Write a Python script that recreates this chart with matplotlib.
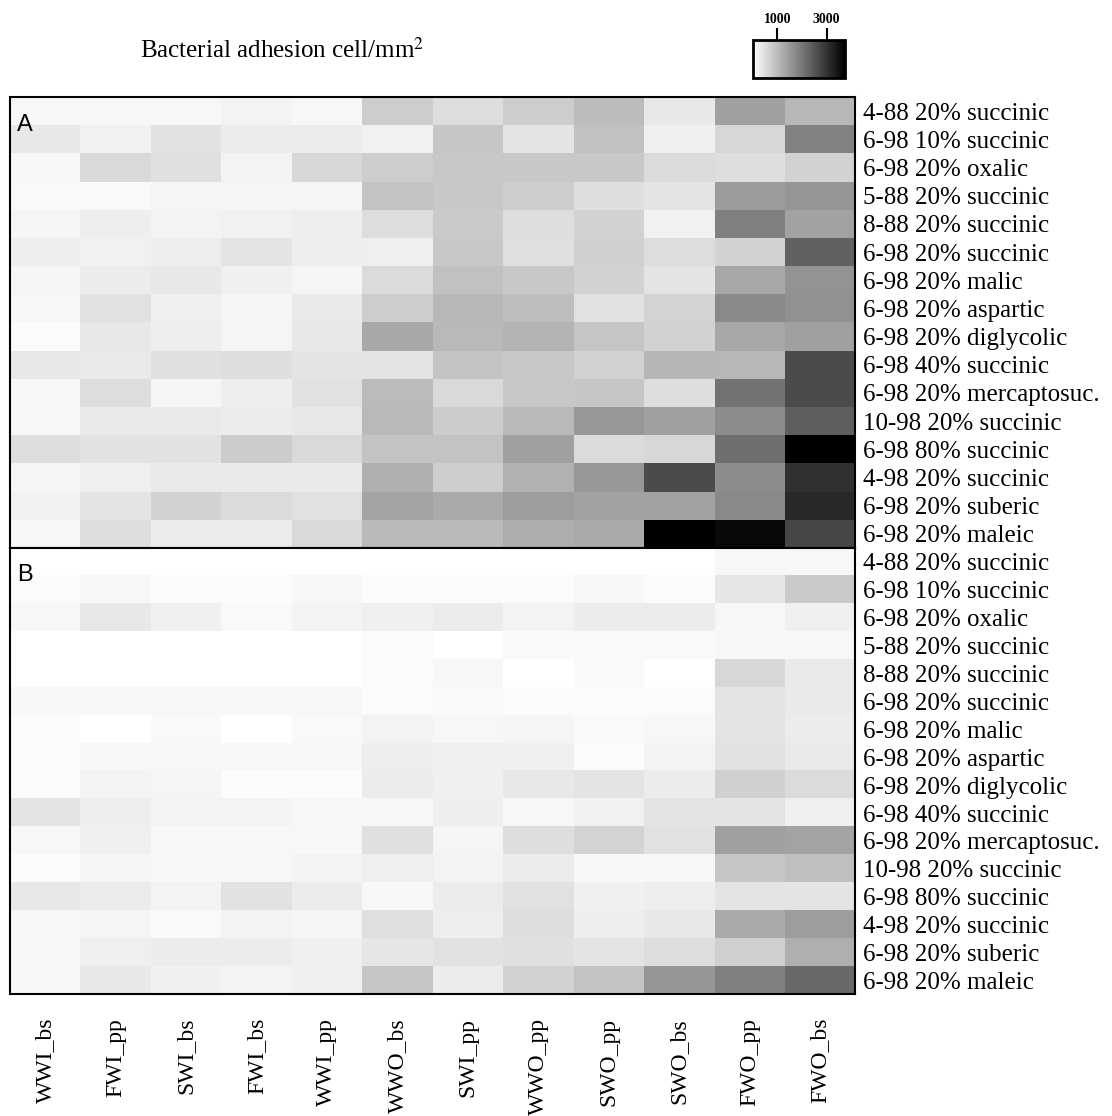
import numpy as np
import matplotlib
matplotlib.use("Agg")
import matplotlib.pyplot as plt

plt.rcParams["font.family"] = "Liberation Serif"
plt.rcParams["mathtext.fontset"] = "stix"


SAMPLES = ["WWI_bs", "FWI_pp", "SWI_bs", "FWI_bs", "WWI_pp", "WWO_bs",
           "SWI_pp", "WWO_pp", "SWO_pp", "SWO_bs", "FWO_pp", "FWO_bs"]

POLYMERS = [
    "4-88 20% succinic",
    "6-98 10% succinic",
    "6-98 20% oxalic",
    "5-88 20% succinic",
    "8-88 20% succinic",
    "6-98 20% succinic",
    "6-98 20% malic",
    "6-98 20% aspartic",
    "6-98 20% diglycolic",
    "6-98 40% succinic",
    "6-98 20% mercaptosuc.",
    "10-98 20% succinic",
    "6-98 80% succinic",
    "4-98 20% succinic",
    "6-98 20% suberic",
    "6-98 20% maleic",
]

# cells/mm2, one row per polymer, one column per sample
ADHESION_A = [
    [120, 120, 120, 190, 120, 740, 510, 740, 990, 340, 1400, 1060],
    [340, 210, 430, 280, 280, 210, 840, 410, 910, 220, 600, 1840],
    [120, 570, 460, 190, 600, 740, 810, 810, 810, 540, 490, 660],
    [100, 100, 160, 160, 160, 870, 820, 740, 490, 400, 1470, 1540],
    [160, 260, 190, 210, 260, 510, 780, 490, 660, 210, 1870, 1370],
    [260, 210, 260, 410, 260, 240, 810, 470, 690, 510, 660, 2310],
    [160, 290, 340, 220, 160, 540, 910, 810, 660, 410, 1290, 1570],
    [120, 440, 220, 150, 320, 740, 1060, 960, 440, 630, 1740, 1620],
    [70, 340, 260, 150, 340, 1280, 1030, 1100, 850, 660, 1290, 1400],
    [340, 310, 460, 490, 410, 400, 870, 810, 660, 1070, 1060, 2650],
    [130, 510, 160, 250, 440, 1000, 570, 810, 840, 490, 2060, 2650],
    [130, 320, 320, 280, 340, 1030, 750, 1030, 1510, 1400, 1690, 2350],
    [490, 430, 430, 760, 560, 870, 870, 1400, 540, 600, 2130, 3750],
    [160, 240, 310, 310, 310, 1180, 740, 1150, 1510, 2650, 1690, 3020],
    [210, 400, 660, 540, 440, 1350, 1250, 1440, 1370, 1370, 1740, 3160],
    [130, 490, 290, 290, 570, 1030, 1030, 1210, 1250, 3750, 3600, 2720],
]

ADHESION_B = [
    [0, 0, 0, 0, 0, 0, 0, 0, 0, 0, 130, 130],
    [70, 120, 70, 70, 120, 70, 70, 70, 120, 70, 370, 780],
    [120, 340, 220, 100, 190, 220, 290, 180, 280, 280, 130, 220],
    [0, 0, 0, 0, 0, 70, 0, 90, 90, 90, 120, 120],
    [0, 0, 0, 0, 0, 70, 120, 0, 90, 0, 590, 320],
    [120, 120, 120, 130, 120, 70, 90, 70, 70, 70, 400, 320],
    [70, 0, 90, 0, 90, 180, 130, 160, 100, 130, 400, 290],
    [70, 120, 120, 120, 120, 260, 220, 220, 70, 180, 440, 320],
    [70, 180, 150, 70, 70, 280, 220, 340, 400, 280, 690, 540],
    [400, 250, 190, 190, 120, 120, 250, 120, 210, 400, 400, 220],
    [120, 220, 120, 120, 120, 460, 150, 490, 630, 440, 1400, 1350],
    [70, 160, 130, 130, 180, 240, 180, 290, 130, 130, 840, 930],
    [350, 290, 190, 430, 280, 120, 290, 440, 220, 250, 410, 410],
    [120, 160, 100, 190, 160, 470, 250, 490, 260, 340, 1250, 1440],
    [120, 240, 290, 290, 220, 380, 430, 460, 410, 510, 690, 1180],
    [120, 340, 220, 180, 220, 840, 280, 660, 880, 1540, 1870, 2210],
]

VMIN, VMAX = 0, 3750
CBAR_TICKS = [1000, 3000]


fig = plt.figure(figsize=(11.12, 11.16), dpi=100)
ax_a = fig.add_axes([0.009, 0.509, 0.760, 0.404])
ax_b = fig.add_axes([0.009, 0.109, 0.760, 0.400])

for ax, data, tag in ((ax_a, ADHESION_A, "A"), (ax_b, ADHESION_B, "B")):
    im = ax.imshow(np.array(data), cmap="gray_r", vmin=VMIN, vmax=VMAX,
                   aspect="auto", interpolation="nearest")
    ax.yaxis.tick_right()
    ax.set_yticks(range(len(POLYMERS)))
    ax.set_yticklabels(POLYMERS, fontsize=18)
    ax.tick_params(axis="y", length=0, pad=6)
    ax.text(0.008, 0.925, tag, transform=ax.transAxes,
            family="Liberation Sans", fontsize=17)
    for spine in ax.spines.values():
        spine.set_linewidth(1.5)

ax_a.set_xticks([])
ax_b.set_xticks(range(len(SAMPLES)))
ax_b.set_xticklabels(SAMPLES, rotation=90, fontsize=17, va="top")
ax_b.tick_params(axis="x", length=0, pad=17)

fig.text(0.254, 0.955, r"Bacterial adhesion cell/mm$^2$",
         ha="center", va="center", fontsize=18)

cax = fig.add_axes([0.677, 0.930, 0.083, 0.034])
cb = fig.colorbar(im, cax=cax, orientation="horizontal", ticks=CBAR_TICKS)
cax.xaxis.set_ticks_position("top")
cax.tick_params(axis="x", length=9, width=1.5, pad=1)
for lbl in cax.get_xticklabels():
    lbl.set_fontsize(10)
    lbl.set_fontweight("bold")
cb.outline.set_linewidth(2)
cax.spines["bottom"].set_linewidth(3.5)

fig.savefig("out.png", dpi=100)
